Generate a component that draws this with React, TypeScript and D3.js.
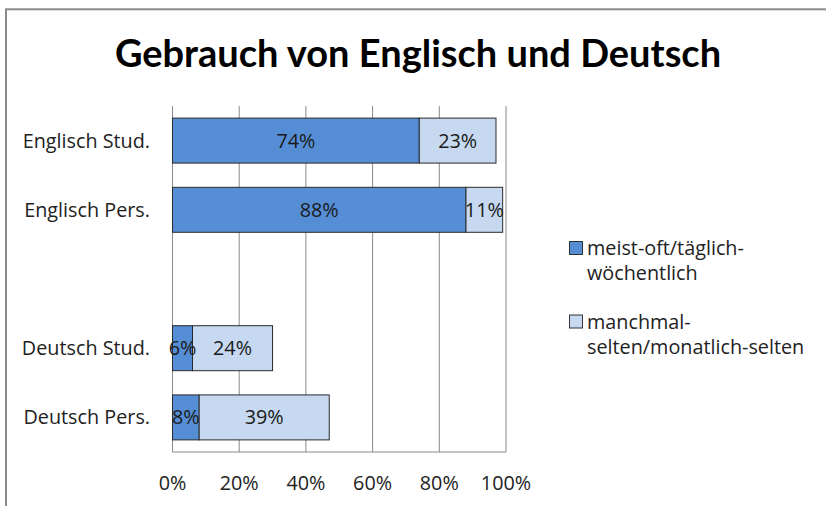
import React from 'react';
import * as d3 from 'd3';

const title = 'Gebrauch von Englisch und Deutsch';
const categories = ['Englisch Stud.', 'Englisch Pers.', '', 'Deutsch Stud.', 'Deutsch Pers.'];
const oftValues = [74, 88, null, 6, 8];
const seltenValues = [23, 11, null, 24, 39];
const ticks = [0, 20, 40, 60, 80, 100];
const legendItems = [
  { lines: ['meist-oft/täglich-', 'wöchentlich'], color: '#558ED5' },
  { lines: ['manchmal-', 'selten/monatlich-selten'], color: '#C6D9F1' },
];

const W = 826;
const H = 506;
const font = '"Open Sans", Lato, sans-serif';
const fs = 19.8;

export default function App() {
  const x = d3.scaleLinear().domain([0, 100]).range([172.5, 506]);
  const y = d3.scaleBand().domain(categories.map((c, i) => String(i))).range([106, 452]).paddingInner(0.35).paddingOuter(0.175);
  const grid = '#8a8a8a';

  return (
    <svg width={W} height={H} style={{ position: 'absolute', left: 0, top: 0 }} fontFamily={font}>
      <rect x={0} y={0} width={W} height={H} fill="#fff" />
      {/* frame, only left and top visible */}
      <rect x={6} y={9.3} width={W + 20} height={H + 20} fill="none" stroke="#8c8c8c" strokeWidth={2} />

      <text x={418} y={67} textAnchor="middle" fontSize={38} fontWeight="bold" fill="#000" fontFamily="Lato, sans-serif">{title}</text>

      {ticks.map(t => (
        <line key={t} x1={x(t)} x2={x(t)} y1={106} y2={452} stroke={grid} strokeWidth={1} />
      ))}
      <line x1={x(0)} x2={x(100)} y1={452} y2={452} stroke={grid} strokeWidth={1} />

      {ticks.map(t => (
        <text key={'t' + t} x={x(t)} y={490} textAnchor="middle" fontSize={fs} fill="#222">{t + '%'}</text>
      ))}

      {categories.map((c, i) => {
        const y0 = y(String(i))!;
        const bh = y.bandwidth();
        const a = oftValues[i];
        const b = seltenValues[i];
        return (
          <g key={i}>
            {c && (
              <text x={150} y={y0 + bh / 2 + 7} textAnchor="end" fontSize={fs} fill="#222">{c}</text>
            )}
            {a != null && b != null && (
              <>
                <rect x={x(0)} y={y0} width={x(a) - x(0)} height={bh} fill="#558ED5" stroke="#2a2a2a" strokeWidth={1} />
                <rect x={x(a)} y={y0} width={x(a + b) - x(a)} height={bh} fill="#C6D9F1" stroke="#2a2a2a" strokeWidth={1} />
                <text x={(x(0) + x(a)) / 2} y={y0 + bh / 2 + 7} textAnchor="middle" fontSize={fs} fill="#1a1a1a">{a + '%'}</text>
                <text x={(x(a) + x(a + b)) / 2} y={y0 + bh / 2 + 7} textAnchor="middle" fontSize={fs} fill="#1a1a1a">{b + '%'}</text>
              </>
            )}
          </g>
        );
      })}

      {legendItems.map((item, i) => {
        const top = 241 + i * 73.5;
        return (
          <g key={i}>
            <rect x={569.5} y={top + 0.5} width={13} height={13} fill={item.color} stroke="#333" strokeWidth={1} />
            {item.lines.map((l, j) => (
              <text key={j} x={587} y={top + 14 + j * 25} fontSize={fs} fill="#222">{l}</text>
            ))}
          </g>
        );
      })}
    </svg>
  );
}
